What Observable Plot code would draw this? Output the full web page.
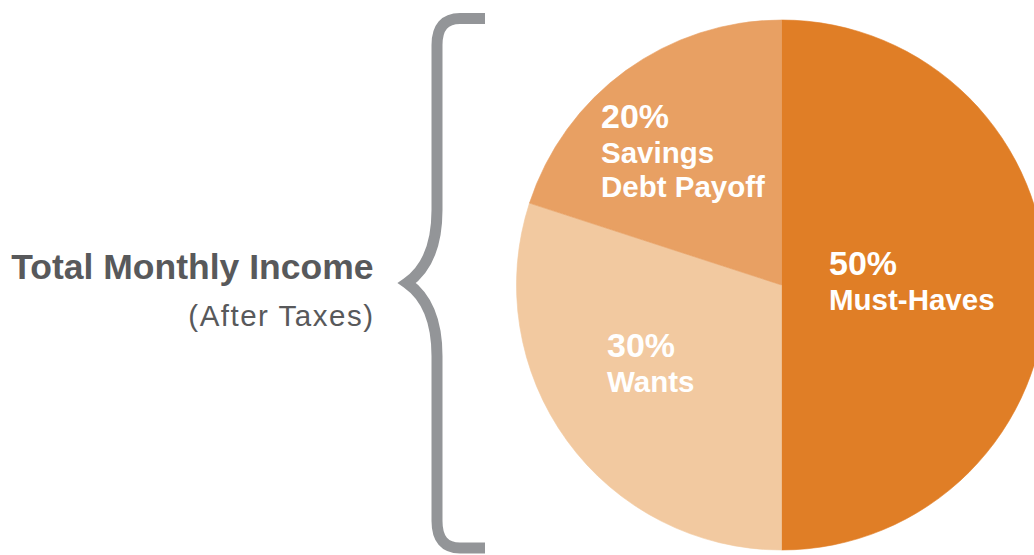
<!DOCTYPE html>
<html>
<head>
<meta charset="utf-8">
<script src="https://cdn.jsdelivr.net/npm/d3@7"></script>
<script src="https://cdn.jsdelivr.net/npm/@observablehq/plot@0.6"></script>
<style>
  html, body { margin: 0; padding: 0; background: #fff; overflow: hidden; }
  svg { display: block; }
</style>
</head>
<body>
<div id="chart"></div>
<script>
// ---- data ----
const categories = ["Must-Haves", "Wants", "Savings"];
const percents = [50, 30, 20];
const labelLines = [["Must-Haves"], ["Wants"], ["Savings", "Debt Payoff"]];
const colors = ["#E07E26", "#F2C9A0", "#E8A063"];
const titleText = "Total Monthly Income";
const subtitleText = "(After Taxes)";

// ---- layout (not data) ----
const W = 1034, H = 555;
const cx = 781.5, cy = 285, R = 265;
const FONT = "'Liberation Sans', Arial, sans-serif";
const labelPos = [
  {x: 829, y: 275},
  {x: 607, y: 357},
  {x: 601, y: 128}
];

const slices = d3.pie().sort(null).value(d => d.value)(
  categories.map((c, i) => ({name: c, value: percents[i], color: colors[i], lines: labelLines[i], pos: labelPos[i]}))
);

function pieMark(index, scales, values, dims) {
  const g = d3.create("svg:g");
  const arc = d3.arc().innerRadius(0).outerRadius(scales.x(R) - scales.x(0));
  g.selectAll("path").data(slices).join("path")
    .attr("transform", `translate(${scales.x(cx)},${scales.y(cy)})`)
    .attr("d", arc)
    .attr("fill", d => d.data.color)
    .attr("stroke", d => d.data.color)
    .attr("stroke-width", 0.6);
  const t = g.selectAll("g.lab").data(slices).join("g").attr("class", "lab")
    .attr("text-anchor", "start");
  t.append("text")
    .attr("x", d => scales.x(d.data.pos.x))
    .attr("y", d => scales.y(d.data.pos.y))
    .attr("fill", "#fff")
    .attr("font-family", FONT)
    .attr("font-weight", "bold")
    .attr("font-size", 34)
    .text(d => d.data.value + "%");
  t.each(function(d) {
    d.data.lines.forEach((line, j) => {
      d3.select(this).append("text")
        .attr("x", scales.x(d.data.pos.x))
        .attr("y", scales.y(d.data.pos.y + 35 + 34 * j))
        .attr("fill", "#fff")
        .attr("font-family", FONT)
        .attr("font-weight", "bold")
        .attr("font-size", 29.5)
        .text(line);
    });
  });
  return g.node();
}

function braceMark(index, scales) {
  const x = scales.x, y = scales.y;
  const p = d3.path();
  p.moveTo(x(485), y(18.5));
  p.lineTo(x(460), y(18.5));
  p.quadraticCurveTo(x(437), y(18.5), x(437), y(45));
  p.lineTo(x(437), y(210));
  p.quadraticCurveTo(x(437), y(262), x(407), y(283));
  p.quadraticCurveTo(x(437), y(304), x(437), y(356));
  p.lineTo(x(437), y(521));
  p.quadraticCurveTo(x(437), y(548), x(460), y(548));
  p.lineTo(x(485), y(548));
  return d3.create("svg:path")
    .attr("d", p.toString())
    .attr("fill", "none")
    .attr("stroke", "#939598")
    .attr("stroke-width", 11)
    .attr("stroke-linejoin", "miter")
    .node();
}

const plot = Plot.plot({
  width: W,
  height: H,
  margin: 0,
  x: {domain: [0, W], range: [0, W], axis: null},
  y: {domain: [0, H], range: [0, H], axis: null},
  style: {background: "#fff", overflow: "hidden"},
  marks: [
    pieMark,
    braceMark,
    Plot.text([titleText], {
      x: () => 373, y: () => 278, text: d => d,
      textAnchor: "end", lineAnchor: "bottom",
      fill: "#58595B", fontSize: 35.5, fontWeight: "bold",
      fontFamily: FONT
    }),
    Plot.text([subtitleText], {
      x: () => 374, y: () => 325, text: d => d,
      textAnchor: "end", lineAnchor: "bottom",
      fill: "#58595B", fontSize: 29.5,
      fontFamily: FONT,
      render: (i, s, v, d, c, next) => {
        const g = next(i, s, v, d, c);
        d3.select(g).selectAll("text").attr("letter-spacing", "1.5px");
        return g;
      }
    })
  ]
});
document.getElementById("chart").appendChild(plot);
</script>
</body>
</html>
